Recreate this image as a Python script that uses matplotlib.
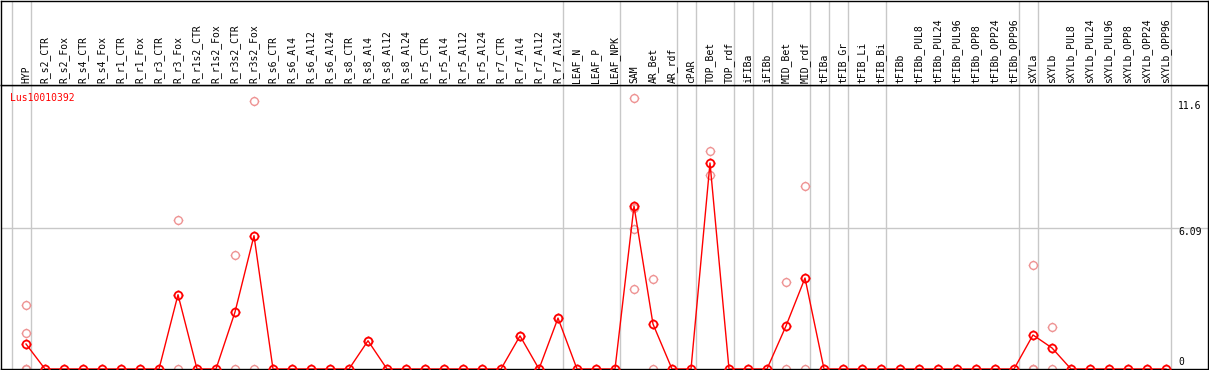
import matplotlib
matplotlib.use("Agg")
import matplotlib.pyplot as plt
from matplotlib.path import Path

# ---------------- data ----------------
categories = [
    "HYP", "R_s2_CTR", "R_s2_Fox", "R_s4_CTR", "R_s4_Fox", "R_r1_CTR", "R_r1_Fox",
    "R_r3_CTR", "R_r3_Fox", "R_r1s2_CTR", "R_r1s2_Fox", "R_r3s2_CTR", "R_r3s2_Fox",
    "R_s6_CTR", "R_s6_Al4", "R_s6_Al12", "R_s6_Al24", "R_s8_CTR", "R_s8_Al4",
    "R_s8_Al12", "R_s8_Al24", "R_r5_CTR", "R_r5_Al4", "R_r5_Al12", "R_r5_Al24",
    "R_r7_CTR", "R_r7_Al4", "R_r7_Al12", "R_r7_Al24", "LEAF_N", "LEAF_P", "LEAF_NPK",
    "SAM", "AR_Bet", "AR_rdf", "cPAR", "TOP_Bet", "TOP_rdf", "iFIBa", "iFIBb",
    "MID_Bet", "MID_rdf", "tFIBa", "tFIB_Gr", "tFIB_Li", "tFIB_Bi", "tFIBb",
    "tFIBb_PUL8", "tFIBb_PUL24", "tFIBb_PUL96", "tFIBb_OPP8", "tFIBb_OPP24",
    "tFIBb_OPP96", "sXYLa", "sXYLb", "sXYLb_PUL8", "sXYLb_PUL24", "sXYLb_PUL96",
    "sXYLb_OPP8", "sXYLb_OPP24", "sXYLb_OPP96",
]

mean_values = [
    1.08, 0, 0, 0, 0, 0, 0, 0, 3.21, 0, 0, 2.46, 5.76,
    0, 0, 0, 0, 0, 1.22, 0, 0, 0, 0, 0, 0, 0, 1.43, 0, 2.20,
    0, 0, 0,
    7.04, 1.94, 0,
    0,
    8.90, 0,
    0, 0,
    1.86, 3.93,
    0, 0, 0, 0,
    0, 0, 0, 0, 0, 0, 0,
    1.47,
    0.91, 0, 0, 0, 0, 0, 0,
]

replicates = {
    "HYP": [2.76, 1.56, 0, 0],
    "R_r3_Fox": [6.44, 0],
    "R_r3s2_CTR": [4.91, 0],
    "R_r3s2_Fox": [11.56, 0],
    "R_s8_Al4": [1.22],
    "R_r7_Al4": [1.43],
    "R_r7_Al24": [2.20],
    "SAM": [11.71, 6.95, 6.03, 3.46],
    "AR_Bet": [3.89, 0],
    "TOP_Bet": [9.43, 8.38],
    "MID_Bet": [3.77, 0],
    "MID_rdf": [7.90, 0],
    "sXYLa": [4.49, 0, 0],
    "sXYLb": [1.83, 0],
}

group_sizes = [1, 28, 3, 3, 1, 2, 1, 1, 2, 1, 1, 2, 7, 1, 7]
gene_label = "Lus10010392"
ytick_values = [11.6, 6.09, 0]
ytick_labels = ["11.6", "6.09", "0"]

# ---------------- layout ----------------
W, H = 1209, 370
fig = plt.figure(figsize=(W / 100, H / 100), dpi=100)
fig.patch.set_facecolor("white")

ax = fig.add_axes([1 / W, 1 / H, 1207 / W, 284 / H])
head = fig.add_axes([1 / W, 285 / H, 1207 / W, 84.5 / H])

xlim = (-25 / 19, 1182 / 19)
for a in (ax, head):
    a.set_xlim(*xlim)
    a.set_xticks([])
    a.set_yticks([])
    for s in a.spines.values():
        s.set_color("black")
        s.set_linewidth(1.0)

ax.set_ylim(0, 284 / 23.15)
head.set_ylim(0, 84.5)

grid_color = "#C8C8C8"
# group separators
bounds = [-1]
acc = -1
for g in group_sizes:
    acc += g
    bounds.append(acc)
for b in bounds:
    for a in (ax, head):
        a.axvline(b + 0.25, color=grid_color, lw=1.0, zorder=0)
ax.axhline(ytick_values[1], color=grid_color, lw=1.0, zorder=0)

# marker: circle with small tick marks
circ = Path.unit_circle()
verts = list(circ.vertices)
codes = list(circ.codes)
for (x0, y0, x1, y1) in [(0, 1, 0, 1.25), (0, -1, 0, -1.25), (1, 0, 1.25, 0), (-1, 0, -1.25, 0)]:
    verts += [(x0, y0), (x1, y1)]
    codes += [Path.MOVETO, Path.LINETO]
mk = Path(verts, codes)
ms = 7.0

xs = list(range(len(categories)))
pink = "#EE9494"
for i, c in enumerate(categories):
    reps = replicates.get(c, [])
    if reps:
        ax.plot([i] * len(reps), reps, ls="none", marker=mk, ms=ms,
                mec=pink, mfc="none", mew=1.0, zorder=2)

ax.plot(xs, mean_values, color="#FF0000", lw=1.0, marker=mk, ms=ms,
        mec="#FF0000", mfc="none", mew=1.3, zorder=3)

# header labels
for i, c in enumerate(categories):
    head.text(i, 1.8, c, rotation=90, ha="center", va="bottom",
              fontsize=7, family="DejaVu Sans Mono", color="black")

# gene name
ax.text(9 / 1207, 1 - 12.7 / 284, gene_label, transform=ax.transAxes,
        ha="left", va="center", fontsize=7, family="DejaVu Sans Mono", color="#FF0000")

# right value labels
offsets = [-6, -4, 7]
for v, lab, off in zip(ytick_values, ytick_labels, offsets):
    ax.annotate(lab, xy=(1152 / 19, v), xytext=(0, off), textcoords="offset pixels",
                ha="left", va="center", fontsize=7, family="DejaVu Sans Mono",
                color="black")

fig.savefig("out.png", dpi=100)
